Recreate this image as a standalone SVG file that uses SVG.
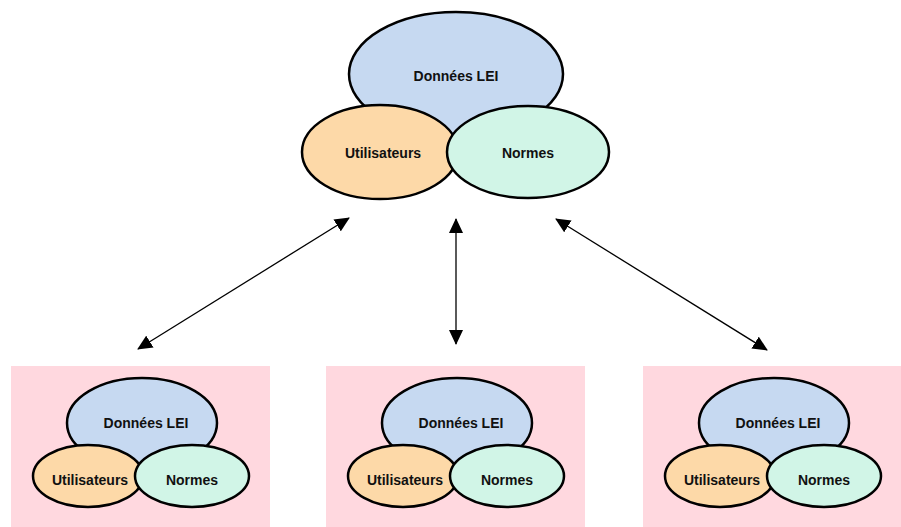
<svg xmlns="http://www.w3.org/2000/svg" width="901" height="527" viewBox="0 0 901 527">
<style>
.bg{fill:#ffd8df}
.e{stroke:#000;stroke-width:2.5}
.d{fill:#c6d9f1}
.u{fill:#fdd9a8}
.n{fill:#d1f5e7}
.t{font-family:"Liberation Sans",Arial,sans-serif;font-weight:bold;font-size:14px;fill:#111;text-anchor:middle}
.c{stroke:#000;stroke-width:1.3;fill:none;marker-start:url(#ah);marker-end:url(#ah)}
</style>
<defs>
<marker id="ah" markerUnits="userSpaceOnUse" markerWidth="16" markerHeight="14" refX="14" refY="7" orient="auto-start-reverse" viewBox="0 0 16 14">
<path d="M0,0 L15,7 L0,14 Z" fill="#000"/>
</marker>
<g id="cluster">
<ellipse class="e d" cx="142" cy="423" rx="75" ry="45"/>
<ellipse class="e u" cx="88" cy="476" rx="55" ry="31"/>
<ellipse class="e n" cx="192" cy="476" rx="57" ry="31"/>
<text class="t" x="146" y="428">Données LEI</text>
<text class="t" x="90" y="485">Utilisateurs</text>
<text class="t" x="192" y="485">Normes</text>
</g>
</defs>
<g id="top">
<ellipse class="e d" cx="456" cy="74" rx="107" ry="62"/>
<ellipse class="e u" cx="380" cy="152" rx="78" ry="47"/>
<ellipse class="e n" cx="528" cy="152" rx="81" ry="46"/>
<text class="t" x="456" y="81">Données LEI</text>
<text class="t" x="383" y="158">Utilisateurs</text>
<text class="t" x="528" y="158">Normes</text>
</g>
<g id="box1">
<rect class="bg" x="11" y="366" width="259" height="161"/>
<use href="#cluster"/>
</g>
<g id="box2">
<rect class="bg" x="326" y="366" width="259" height="161"/>
<use href="#cluster" transform="translate(315,0)"/>
</g>
<g id="box3">
<rect class="bg" x="643" y="366" width="258" height="161"/>
<use href="#cluster" transform="translate(632,0)"/>
</g>
<g id="connectors">
<line class="c" x1="138" y1="349" x2="349" y2="218"/>
<line class="c" x1="456" y1="344" x2="456" y2="219"/>
<line class="c" x1="767" y1="350" x2="556" y2="219"/>
</g>
</svg>
